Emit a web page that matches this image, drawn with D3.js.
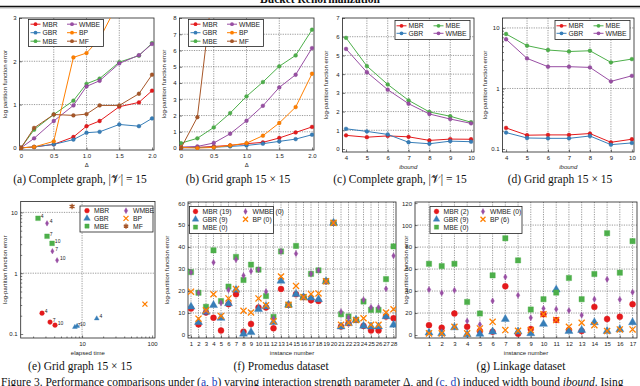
<!DOCTYPE html>
<html lang="en">
<head>
<meta charset="UTF-8" />
<title>Bucket Renormalization - Figure 3</title>
<script src="https://d3js.org/d3.v7.min.js"></script>
<style>
  body { margin: 0; background: #fff; }
  svg { display: block; }
  .tk text, .lbl, .leg text, .ann { font-family: "Liberation Sans", Arial, sans-serif; fill: #222; }
  .tk text { font-size: 6px; }
  .lbl { font-size: 6px; }
  .leg text { font-size: 6.8px; }
  .ann { font-size: 5px; }
  .cap { font-family: "Liberation Serif", "Times New Roman", serif; font-size: 11.5px; fill: #111; }
  .grid { stroke: #555; stroke-width: 0.6; stroke-dasharray: 1.2 1.2; }
  .tk line { stroke: #222; stroke-width: 0.6; }
</style>
</head>
<body>
<svg id="fig" width="640" height="386"></svg>
<script>
// ---- data -------------------------------------------------------------
const seriesNames = ["MBR", "GBR", "MBE", "WMBE", "BP", "MF"];
const palette = ["#e41a1c", "#377eb8", "#4daf4a", "#984ea3", "#ff7f00", "#a65628"];

// (a) complete graph, varying delta
const deltaA = [0, 0.2, 0.5, 0.8, 1.0, 1.2, 1.5, 1.8, 2.0];
const aMBR  = [0, 0.02, 0.08, 0.25, 0.50, 0.62, 0.95, 1.05, 1.32];
const aGBR  = [0, 0.02, 0.08, 0.19, 0.35, 0.37, 0.54, 0.50, 0.68];
const aMBE  = [0, 0.42, 0.77, 1.09, 1.48, 1.60, 1.98, 2.13, 2.42];
const aWMBE = [0, 0.22, 0.62, 0.98, 1.42, 1.55, 1.95, 2.14, 2.40];
const aBP   = [0, 0.02, 0.15, 2.09, 2.19, 2.52, 3.40, 4.00, 4.50];
const aMF   = [0, 0.46, 0.77, 0.75, 0.78, 0.98, 0.98, 1.25, 1.69];

// (b) grid graph, varying delta
const deltaB = [0, 0.25, 0.5, 0.75, 1.0, 1.25, 1.5, 1.75, 2.0];
const bMBR  = [0.02, 0.04, 0.10, 0.16, 0.27, 0.35, 0.62, 0.96, 1.30];
const bGBR  = [0.02, 0.03, 0.05, 0.10, 0.16, 0.27, 0.41, 0.55, 0.82];
const bMBE  = [0.30, 0.60, 1.27, 2.15, 3.18, 4.06, 5.03, 5.70, 7.28];
const bWMBE = [0.06, 0.10, 0.31, 0.88, 1.68, 2.60, 3.73, 4.51, 6.15];
const bBP   = [0.04, 0.00, 0.04, 0.16, 0.30, 0.76, 1.54, 2.52, 4.57];
const bMF   = [0.00, 1.90, 10.4, 16.0, 21.0, 25.0, 29.0, 33.0, 36.0];

// (c) complete graph, varying ibound
const ibound = [4, 5, 6, 7, 8, 9, 10];
const cMBR  = [0.73, 0.63, 0.70, 0.65, 0.46, 0.53, 0.52];
const cGBR  = [1.08, 0.94, 0.78, 0.36, 0.28, 0.42, 0.39];
const cMBE  = [5.94, 4.43, 3.45, 2.60, 1.98, 1.75, 1.43];
const cWMBE = [5.35, 4.10, 3.17, 2.42, 1.87, 1.60, 1.37];

// (d) grid graph, varying ibound
const dMBR  = [0.223, 0.169, 0.171, 0.171, 0.180, 0.129, 0.145];
const dGBR  = [0.187, 0.152, 0.150, 0.150, 0.164, 0.118, 0.126];
const dMBE  = [7.95, 5.10, 4.32, 4.08, 4.20, 2.70, 3.06];
const dWMBE = [6.50, 3.14, 2.29, 2.29, 2.23, 1.31, 1.62];

// (e) error vs elapsed time, points labelled by ibound
const eIbound   = [4, 7, 10];
const eMBRTime  = [2.68, 3.49, 4.11];
const eMBRErr   = [0.22, 0.157, 0.14];
const eGBRTime  = [16.2, 7.9, 8.5];
const eGBRErr   = [0.18, 0.13, 0.135];
const eMBETime  = [2.35, 3.16, 3.73];
const eMBEErr   = [8.0, 4.05, 3.1];
const eWMBETime = [3.16, 3.77, 4.4];
const eWMBEErr  = [6.6, 2.3, 1.63];
const eBPTime   = [79];
const eBPErr    = [0.31];
const eMFTime   = [7.2];
const eMFErr    = [12.5];

// (f) Promedus dataset, instances 1..28
const fMBR  = [12.0, 4.8, 10.2, 7.8, 2.0, 14.0, 18.5, 1.5, 5.0, 12.5, 12.5, 3.0, 20.9, 13.7, 18.5, 17.2, 15.8, 15.4, 24.4, 51.0, 3.8, 5.3, 6.8, 4.1, 2.0, 2.0, 8.4, 7.6];
const fGBR  = [12.8, 5.8, 10.5, 13.5, 7.7, 14.3, 20.5, 0.5, 1.2, 11.7, 13.0, 5.8, 24.6, 13.7, 18.6, 17.2, 16.9, 16.2, 24.4, 51.0, 3.8, 5.3, 6.8, 4.1, 3.8, 3.8, 8.4, 4.6];
const fMBE  = [28.6, 19.2, 12.8, 38.5, 15.4, 22.0, 35.5, 25.0, 32.0, 29.7, 17.7, 8.2, 38.0, 13.7, 40.5, 17.2, 27.8, 29.4, 24.4, 51.0, 9.4, 8.4, 6.8, 15.2, 11.4, 11.4, 25.4, 40.3];
const fWMBE = [28.5, 19.2, 11.0, 33.0, 14.6, 20.5, 34.3, 27.0, 29.0, 29.7, 19.7, 7.4, 38.0, 13.7, 37.0, 17.2, 27.8, 29.4, 24.4, 51.0, 10.6, 7.9, 6.8, 16.0, 12.6, 12.6, 21.0, 36.0];
const fBP   = [19.7, 7.4, 11.2, 18.5, 8.6, 16.6, 20.9, 11.0, 10.2, 16.6, 13.5, 6.2, 26.6, 13.7, 22.3, 17.2, 18.6, 18.9, 24.4, 51.0, 4.6, 5.6, 6.8, 7.6, 4.6, 4.6, 10.2, 11.7];
const fCounts = [19, 9, 0, 0, 0];

// (g) Linkage dataset, instances 1..17
const gMBR  = [9.0, 6.6, 19.6, 7.5, 3.6, 3.0, 44.3, 1.2, 5.4, 19.0, 13.6, 4.5, 3.6, 25.6, 14.5, 16.6, 28.0];
const gGBR  = [2.1, 1.5, 6.9, 0.6, 0.9, 3.0, 14.5, 3.0, 1.5, 10.0, 41.3, 3.6, 4.5, 11.5, 3.6, 5.1, 11.5];
const gMBE  = [64.8, 62.7, 64.8, 30.1, 19.6, 54.3, 88.0, 67.9, 23.2, 32.6, 38.6, 51.9, 32.6, 55.5, 92.6, 56.7, 85.4];
const gWMBE = [41.3, 38.3, 40.7, 12.7, 9.6, 31.0, 52.8, 36.2, 15.7, 24.1, 23.5, 22.3, 18.1, 32.6, 50.7, 32.3, 38.9];
const gBP   = [1.5, 1.5, 7.5, 1.5, 6.0, 12.0, 4.5, 3.9, 4.5, 19.0, 13.6, 7.5, 11.2, 9.0, 3.6, 5.1, 5.1];
const gCounts = [2, 9, 0, 0, 6];

// ---- helpers ----------------------------------------------------------
const svg = d3.select("#fig");
const color = d3.scaleOrdinal().domain(seriesNames).range(palette);
let clipId = 0;

function symbolPath(name, size) {
  const t = { MBR: d3.symbolCircle, GBR: d3.symbolTriangle, MBE: d3.symbolSquare,
              WMBE: d3.symbolDiamond, BP: d3.symbolX, MF: d3.symbolAsterisk }[name];
  return d3.symbol(t, size)();
}

function drawMarker(g, name, cx, cy, size) {
  const stroked = name === "BP" || name === "MF";
  g.append("path")
    .attr("d", symbolPath(name, size))
    .attr("transform", `translate(${cx},${cy})`)
    .attr("fill", stroked ? "none" : color(name))
    .attr("stroke", color(name))
    .attr("stroke-width", stroked ? 1.3 : 0.4);
}

function panel(p) {
  const [x0, y0, x1, y1] = p.box;
  const x = p.x.range([x0, x1]);
  const y = p.y.range([y1, y0]);
  const g = svg.append("g");

  (p.xgrid || []).forEach((v) =>
    g.append("line").attr("class", "grid").attr("x1", x(v)).attr("x2", x(v)).attr("y1", y0).attr("y2", y1));
  (p.ygrid || []).forEach((v) =>
    g.append("line").attr("class", "grid").attr("x1", x0).attr("x2", x1).attr("y1", y(v)).attr("y2", y(v)));

  const ax = g.append("g").attr("class", "tk").attr("transform", `translate(0,${y1})`)
    .call(d3.axisBottom(x).tickValues(p.xticks).tickFormat(p.xfmt).tickSizeInner(-2.5).tickSizeOuter(0).tickPadding(3.5));
  const ay = g.append("g").attr("class", "tk").attr("transform", `translate(${x0},0)`)
    .call(d3.axisLeft(y).tickValues(p.yticks).tickFormat(p.yfmt).tickSizeInner(-2.5).tickSizeOuter(0).tickPadding(3));
  ax.select(".domain").remove();
  ay.select(".domain").remove();
  if (p.xminor) g.append("g").attr("class", "tk").attr("transform", `translate(0,${y1})`)
    .call(d3.axisBottom(x).tickValues(p.xminor).tickFormat("").tickSize(-1.5)).select(".domain").remove();
  if (p.yminor) g.append("g").attr("class", "tk").attr("transform", `translate(${x0},0)`)
    .call(d3.axisLeft(y).tickValues(p.yminor).tickFormat("").tickSize(-1.5)).select(".domain").remove();

  g.append("rect").attr("x", x0).attr("y", y0).attr("width", x1 - x0).attr("height", y1 - y0)
    .attr("fill", "none").attr("stroke", "#222").attr("stroke-width", 0.8);

  g.append("text").attr("class", "lbl").attr("text-anchor", "middle")
    .attr("transform", `translate(${p.ylabelX},${(y0 + y1) / 2}) rotate(-90)`).text(p.ylabel);
  const xl = g.append("text").attr("class", "lbl").attr("text-anchor", "middle")
    .attr("x", (x0 + x1) / 2).attr("y", y1 + 17).text(p.xlabel);
  if (p.xlabelItalic) xl.attr("font-style", "italic");

  const id = "clip" + clipId++;
  svg.append("clipPath").attr("id", id).append("rect")
    .attr("x", x0).attr("y", y0).attr("width", x1 - x0).attr("height", y1 - y0);
  const plot = g.append("g").attr("clip-path", `url(#${id})`);
  return { g, plot, x, y };
}

function lineSeries(pn, xs, ys, name) {
  const line = d3.line().x((d, i) => pn.x(xs[i])).y((d) => pn.y(d));
  pn.plot.append("path").attr("d", line(ys)).attr("fill", "none")
    .attr("stroke", color(name)).attr("stroke-width", 1);
  ys.forEach((v, i) =>
    pn.plot.append("circle").attr("cx", pn.x(xs[i])).attr("cy", pn.y(v)).attr("r", 1.9)
      .attr("fill", color(name)).attr("stroke", d3.color(color(name)).darker(0.4)).attr("stroke-width", 0.4));
}

function legend(lx, ly, w, h, cols, items, marker) {
  const g = svg.append("g").attr("class", "leg");
  g.append("rect").attr("x", lx).attr("y", ly).attr("width", w).attr("height", h)
    .attr("fill", "#fff").attr("stroke", "#222").attr("stroke-width", 0.8);
  items.forEach((it, i) => {
    const c = Math.floor(i / cols.rows), r = i % cols.rows;
    const mx = lx + cols.mx[c], my = ly + cols.y0 + r * cols.dy;
    if (marker === "line") {
      g.append("line").attr("x1", mx - 5).attr("x2", mx + 5).attr("y1", my).attr("y2", my)
        .attr("stroke", color(it.name)).attr("stroke-width", 1);
      g.append("circle").attr("cx", mx).attr("cy", my).attr("r", 1.9).attr("fill", color(it.name));
    } else {
      drawMarker(g, it.name, mx, my, it.name === "WMBE" ? 10 : 18);
    }
    g.append("text").attr("x", mx + 7).attr("y", my + 2.4).text(it.label);
  });
}

const fmt1 = (d) => (d === 0 ? "0" : d3.format(".1f")(d));

// ---- header -------------------------------------------------------------
svg.append("text").attr("x", 320).attr("y", 3).attr("text-anchor", "middle")
  .attr("class", "cap").attr("font-weight", "bold").attr("font-size", 12).text("Bucket Renormalization");
svg.append("line").attr("x1", 0).attr("x2", 640).attr("y1", 6.3).attr("y2", 6.3).attr("stroke", "#111").attr("stroke-width", 1.2);
svg.append("line").attr("x1", 0).attr("x2", 640).attr("y1", 7.8).attr("y2", 7.8).attr("stroke", "#111").attr("stroke-width", 0.5);

// ---- (a) ----------------------------------------------------------------
const pa = panel({
  box: [19.5, 18, 154, 150], x: d3.scaleLinear().domain([-0.023, 2.03]), y: d3.scaleLinear().domain([-0.05, 3]),
  xticks: [0, 0.5, 1, 1.5, 2], xfmt: fmt1, yticks: [0, 1, 2, 3], yfmt: d3.format("d"),
  xgrid: [0.5, 1, 1.5], ygrid: [1, 2], ylabel: "log partition function error", ylabelX: 7, xlabel: "Δ"
});
[aMBR, aGBR, aMBE, aWMBE, aBP, aMF].forEach((s, i) => lineSeries(pa, deltaA, s, seriesNames[i]));

// ---- (b) ----------------------------------------------------------------
const pb = panel({
  box: [179.5, 18, 314, 150], x: d3.scaleLinear().domain([-0.023, 2.03]), y: d3.scaleLinear().domain([-0.12, 8]),
  xticks: [0, 0.5, 1, 1.5, 2], xfmt: fmt1, yticks: d3.range(0, 9), yfmt: d3.format("d"),
  xgrid: [0.5, 1, 1.5], ygrid: d3.range(1, 8), ylabel: "log-partition function error", ylabelX: 166, xlabel: "Δ"
});
[bMBR, bGBR, bMBE, bWMBE, bBP, bMF].forEach((s, i) => lineSeries(pb, deltaB, s, seriesNames[i]));

// ---- (c) ----------------------------------------------------------------
const pc = panel({
  box: [342.5, 18, 474, 152], x: d3.scaleLinear().domain([3.83, 10.14]), y: d3.scaleLinear().domain([-0.16, 7]),
  xticks: ibound, xfmt: d3.format("d"), yticks: d3.range(0, 8), yfmt: d3.format("d"),
  xgrid: ibound.slice(1, -1), ygrid: d3.range(1, 7), ylabel: "log-partition function error", ylabelX: 328,
  xlabel: "ibound", xlabelItalic: true
});
[cMBR, cGBR, cMBE, cWMBE].forEach((s, i) => lineSeries(pc, ibound, s, seriesNames[i]));

// ---- (d) ----------------------------------------------------------------
const pd = panel({
  box: [502.5, 18, 634, 152], x: d3.scaleLinear().domain([3.83, 10.1]), y: d3.scaleLog().domain([0.0892, 14.6]),
  xticks: ibound, xfmt: d3.format("d"), yticks: [0.1, 1, 10], yfmt: (d) => String(d),
  yminor: [0.2, 0.3, 0.4, 0.5, 0.6, 0.7, 0.8, 0.9, 2, 3, 4, 5, 6, 7, 8, 9],
  xgrid: ibound.slice(1, -1), ygrid: [1, 10], ylabel: "log-partition function error", ylabelX: 487,
  xlabel: "ibound", xlabelItalic: true
});
[dMBR, dGBR, dMBE, dWMBE].forEach((s, i) => lineSeries(pd, ibound, s, seriesNames[i]));

// legends for the top row
const legSix = seriesNames.map((n) => ({ name: n, label: n }));
legend(28.5, 19.5, 75, 27, { rows: 3, y0: 4.7, dy: 8.5, mx: [7, 43.5] }, legSix, "line");
legend(188.5, 19.5, 75, 27, { rows: 3, y0: 4.7, dy: 8.5, mx: [7, 43.5] }, legSix, "line");
const legFour = seriesNames.slice(0, 4).map((n) => ({ name: n, label: n }));
legend(395, 20.5, 75, 19, { rows: 2, y0: 5.3, dy: 7.5, mx: [6.5, 43.5] }, legFour, "line");
legend(555, 20.5, 75, 19, { rows: 2, y0: 5.3, dy: 7.5, mx: [6.5, 43.5] }, legFour, "line");

// ---- (e) ----------------------------------------------------------------
const pe = panel({
  box: [20.7, 201.5, 155, 338], x: d3.scaleLog().domain([1.33, 110]), y: d3.scaleLog().domain([0.086, 15.1]),
  xticks: [10, 100], xfmt: (d) => String(d), yticks: [0.1, 1, 10], yfmt: (d) => String(d),
  xminor: [2, 3, 4, 5, 6, 7, 8, 9, 20, 30, 40, 50, 60, 70, 80, 90],
  yminor: [0.2, 0.3, 0.4, 0.5, 0.6, 0.7, 0.8, 0.9, 2, 3, 4, 5, 6, 7, 8, 9],
  xgrid: [10], ygrid: [1, 10], ylabel: "log-partition function error", ylabelX: 7, xlabel: "elapsed time"
});
const ePoints = [
  ["MBR", eMBRTime, eMBRErr, 17], ["GBR", eGBRTime, eGBRErr, 10], ["MBE", eMBETime, eMBEErr, 22],
  ["WMBE", eWMBETime, eWMBEErr, 9], ["BP", eBPTime, eBPErr, 18], ["MF", eMFTime, eMFErr, 22]
];
ePoints.forEach(([name, ts, es, sz]) => {
  ts.forEach((t, i) => {
    drawMarker(pe.plot, name, pe.x(t), pe.y(es[i]), sz);
    if (ts.length > 1)
      pe.plot.append("text").attr("class", "ann").attr("x", pe.x(t) + 2.8).attr("y", pe.y(es[i]) - 0.5).text(eIbound[i]);
  });
});
legend(80, 206, 73, 26, { rows: 3, y0: 4.7, dy: 7.7, mx: [7, 46] }, legSix, "marker");

// ---- (f) ----------------------------------------------------------------
const instF = d3.range(1, 29);
const pf = panel({
  box: [188, 202, 396, 338], x: d3.scaleLinear().domain([0.6, 28.33]), y: d3.scaleLinear().domain([-1.4, 60.5]),
  xticks: instF, xfmt: d3.format("d"), yticks: d3.range(0, 61, 10), yfmt: d3.format("d"),
  xgrid: instF, ygrid: d3.range(10, 60, 10), ylabel: "log-partition function error", ylabelX: 169,
  xlabel: "instance number"
});
[fMBR, fGBR, fMBE, fWMBE, fBP].forEach((s, k) => {
  const name = seriesNames[k];
  s.forEach((v, i) => drawMarker(pf.plot, name, pf.x(instF[i]), pf.y(v), name === "WMBE" ? 11 : name === "BP" ? 26 : 28));
});
legend(189.5, 206.5, 84, 27, { rows: 3, y0: 5, dy: 7.8, mx: [6, 56] },
  seriesNames.slice(0, 5).map((n, i) => ({ name: n, label: `${n} (${fCounts[i]})` })), "marker");

// ---- (g) ----------------------------------------------------------------
const instG = d3.range(1, 18);
const pg = panel({
  box: [415, 202, 637, 338], x: d3.scaleLinear().domain([-0.1, 17.35]), y: d3.scaleLinear().domain([-2.7, 121]),
  xticks: instG, xfmt: d3.format("d"), yticks: d3.range(0, 121, 20), yfmt: d3.format("d"),
  xgrid: instG, ygrid: d3.range(20, 120, 20), ylabel: "log-partition function error", ylabelX: 408,
  xlabel: "instance number"
});
[gMBR, gGBR, gMBE, gWMBE, gBP].forEach((s, k) => {
  const name = seriesNames[k];
  s.forEach((v, i) => drawMarker(pg.plot, name, pg.x(instG[i]), pg.y(v), name === "WMBE" ? 11 : name === "BP" ? 26 : 28));
});
legend(430, 206.5, 92, 27, { rows: 3, y0: 5, dy: 7.8, mx: [6.5, 53] },
  seriesNames.slice(0, 5).map((n, i) => ({ name: n, label: `${n} (${gCounts[i]})` })), "marker");

// ---- captions -----------------------------------------------------------
const caps = [
  [80, 183, "(a) Complete graph, |𝒱| = 15"], [238, 183, "(b) Grid graph 15 × 15"],
  [400, 183, "(c) Complete graph, |𝒱| = 15"], [560, 183, "(d) Grid graph 15 × 15"],
  [80, 370, "(e) Grid graph 15 × 15"], [281, 370, "(f) Promedus dataset"], [521, 370, "(g) Linkage dataset"]
];
caps.forEach(([cx, cy, t]) =>
  svg.append("text").attr("class", "cap").attr("x", cx).attr("y", cy).attr("text-anchor", "middle").text(t));

const fig = svg.append("text").attr("class", "cap").attr("x", 1).attr("y", 385.5).attr("font-size", 11.75);
fig.append("tspan").text("Figure 3. Performance comparisons under (");
fig.append("tspan").attr("fill", "#2040c0").text("a");
fig.append("tspan").text(", ");
fig.append("tspan").attr("fill", "#2040c0").text("b");
fig.append("tspan").text(") varying interaction strength parameter Δ, and (");
fig.append("tspan").attr("fill", "#2040c0").text("c");
fig.append("tspan").text(", ");
fig.append("tspan").attr("fill", "#2040c0").text("d");
fig.append("tspan").text(") induced width bound ");
fig.append("tspan").attr("font-style", "italic").text("ibound");
fig.append("tspan").text(". Ising");
</script>
</body>
</html>
